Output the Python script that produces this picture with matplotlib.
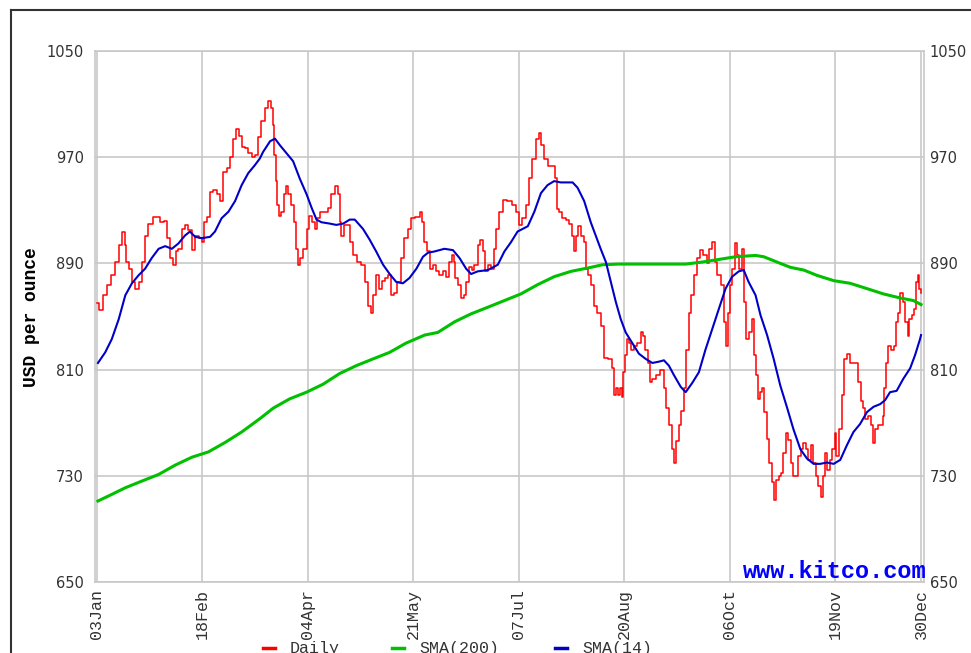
import matplotlib.pyplot as plt
from matplotlib.lines import Line2D

# Kitco gold chart, 2008 (x = trading day index, 0 = 03Jan)
daily_day = [
    0, 1.3, 2.5, 3.5, 5.0, 6.1, 7.1, 8.1, 8.6, 9.1,
    10.1, 11.1, 12.1, 13.1, 14.1, 15.1, 16.1, 17.7, 18.7, 19.7,
    20.7, 21.7, 22.7, 23.5, 24.2, 25.2, 26.2, 27.2, 28.2, 29.3,
    30.3, 31.3, 32.3, 32.8, 33.8, 34.8, 35.8, 36.8, 37.8, 38.8,
    39.9, 40.9, 41.9, 42.7, 43.4, 44.4, 45.4, 46.4, 47.4, 48.4,
    49.4, 50.4, 51.5, 52.3, 53.0, 53.5, 54.0, 54.5, 55.0, 55.5,
    56.3, 57.0, 57.7, 58.5, 59.3, 60.0, 60.5, 61.2, 62.0, 63.1,
    64.1, 64.8, 65.6, 66.4, 67.1, 68.1, 69.6, 70.6, 71.6, 72.6,
    73.4, 73.8, 74.5, 75.2, 76.2, 77.2, 78.2, 79.7, 80.7, 81.7,
    82.7, 83.5, 84.2, 85.2, 86.0, 86.8, 87.8, 88.8, 89.8, 90.6,
    91.6, 92.6, 93.8, 94.8, 95.8, 97.4, 98.4, 98.9, 99.7, 100.4,
    101.4, 102.4, 103.4, 104.4, 105.4, 106.4, 107.4, 108.0, 108.5, 109.0,
    110.0, 111.0, 111.5, 112.5, 113.3, 114.0, 115.0, 116.0, 116.7, 117.3,
    118.0, 119.0, 120.1, 120.6, 121.4, 122.6, 123.8, 125.1, 126.6, 127.6,
    128.4, 129.6, 130.7, 131.5, 132.7, 133.7, 134.3, 135.2, 136.2, 137.2,
    138.5, 139.2, 139.7, 140.7, 141.7, 142.8, 143.8, 144.3, 145.0, 145.6,
    146.3, 147.3, 148.0, 148.8, 149.3, 150.3, 151.3, 152.3, 153.4, 154.4,
    155.9, 156.6, 157.2, 157.9, 158.4, 158.9, 159.4, 159.9, 160.6, 161.2,
    161.9, 162.4, 163.4, 164.5, 165.3, 166.0, 166.7, 167.5, 168.0, 169.0,
    170.0, 171.5, 172.3, 173.0, 174.0, 174.7, 175.3, 176.1, 176.8, 177.6,
    178.4, 179.1, 180.1, 180.6, 181.6, 182.6, 183.4, 184.6, 185.4, 186.1,
    187.1, 187.8, 188.7, 189.7, 190.5, 191.2, 191.7, 192.4, 193.2, 193.9,
    194.5, 195.2, 196.0, 196.5, 197.2, 198.2, 199.1, 199.8, 200.3, 200.8,
    201.5, 202.1, 202.8, 203.5, 204.3, 205.1, 205.8, 206.5, 207.3, 208.0,
    208.5, 209.3, 210.1, 210.8, 211.6, 212.4, 213.2, 213.9, 214.6, 215.4,
    216.2, 216.9, 217.6, 218.4, 219.2, 219.9, 220.4, 221.2, 221.9, 222.7,
    223.5, 224.0, 224.7, 225.5, 226.3, 227.0, 228.0, 229.0, 230.0, 230.7,
    231.3, 232.0, 232.5, 233.6, 234.4, 235.1, 235.8, 236.4, 237.2, 238.2,
    238.6, 239.1, 239.6, 240.4, 241.4, 242.1, 242.6, 243.4, 244.1, 244.8,
    245.6, 246.2, 246.8, 247.7, 248.2, 248.7, 249.2, 249.7, 250,
]
daily_price = [
    860, 855, 866, 874, 881, 891, 904, 914, 904, 891,
    886, 876, 871, 876, 891, 911, 920, 925, 925, 921,
    922, 909, 894, 889, 899, 901, 916, 919, 915, 900,
    911, 909, 906, 921, 925, 944, 945, 942, 937, 959,
    962, 970, 984, 991, 986, 978, 977, 973, 970, 972,
    985, 997, 1007, 1012, 1007, 994, 972, 952, 934, 926,
    929, 942, 948, 942, 934, 921, 901, 889, 894, 901,
    916, 926, 921, 916, 924, 929, 929, 932, 942, 948,
    942, 921, 911, 919, 919, 906, 896, 891, 889, 876,
    858, 853, 866, 881, 871, 877, 879, 881, 866, 868,
    876, 894, 909, 916, 924, 925, 929, 921, 906, 899,
    886, 889, 884, 881, 884, 880, 891, 896, 891, 879,
    874, 864, 866, 876, 887, 885, 889, 904, 908, 899,
    884, 889, 886, 901, 916, 929, 938, 937, 934, 929,
    919, 924, 934, 954, 969, 984, 988, 979, 969, 963,
    963, 954, 931, 929, 924, 923, 920, 911, 899, 911,
    918, 911, 906, 886, 881, 874, 858, 853, 843, 819,
    818, 811, 791, 796, 791, 796, 789, 808, 821, 833,
    830, 825, 828, 830, 838, 835, 825, 815, 801, 803,
    806, 810, 796, 781, 768, 750, 740, 756, 768, 779,
    796, 825, 853, 866, 881, 894, 900, 896, 890, 901,
    906, 891, 881, 874, 846, 828, 853, 874, 886, 905,
    896, 886, 901, 861, 833, 838, 848, 821, 806, 788,
    793, 796, 778, 758, 740, 725, 712, 727, 730, 732,
    747, 762, 757, 740, 730, 730, 745, 750, 755, 750,
    742, 753, 740, 730, 722, 714, 730, 747, 734, 742,
    750, 762, 745, 765, 791, 818, 822, 815, 815, 815,
    801, 786, 781, 773, 775, 768, 755, 765, 768, 768,
    775, 796, 815, 828, 825, 828, 846, 853, 868, 861,
    846, 835, 848, 851, 856, 876, 881, 871, 868,
]

sma14_day = [
    0.3, 2.5, 4.5, 6.6, 8.6, 10.6, 12.6, 14.6, 16.6, 18.7,
    20.7, 22.7, 24.7, 26.7, 28.2, 29.8, 31.8, 34.3, 35.8, 37.8,
    39.9, 41.9, 43.9, 45.9, 47.9, 49.4, 50.4, 52.5, 54.0, 55.5,
    57.5, 59.5, 61.5, 63.6, 65.1, 66.6, 68.1, 70.6, 72.6, 74.7,
    76.7, 78.2, 80.7, 82.7, 84.7, 86.8, 88.8, 90.8, 92.8, 94.8,
    96.9, 98.9, 100.4, 102.4, 105.4, 108.0, 110.0, 112.0, 113.5, 115.5,
    118.6, 121.6, 123.6, 125.6, 127.6, 130.7, 132.7, 134.7, 136.7, 138.7,
    140.7, 144.3, 145.8, 147.8, 149.8, 151.3, 152.8, 154.4, 155.9, 157.4,
    158.9, 160.4, 162.4, 164.4, 166.5, 168.5, 170.5, 172.0, 173.5, 175.0,
    177.1, 178.6, 180.6, 182.6, 184.6, 186.7, 188.7, 190.7, 192.7, 194.7,
    196.2, 197.7, 199.8, 201.3, 203.3, 205.3, 207.3, 209.4, 211.3, 213.4,
    215.4, 217.4, 219.4, 221.5, 223.5, 225.5, 227.5, 229.5, 231.5, 233.6,
    235.6, 237.6, 239.1, 240.6, 242.6, 244.6, 246.7, 248.2, 249.7, 250,
]
sma14 = [
    815, 823, 833, 848, 866, 875, 881, 886, 894, 901,
    903, 901, 905, 911, 914, 910, 909, 910, 914, 924,
    929, 937, 949, 958, 964, 969, 974, 982, 984, 979,
    973, 967, 954, 942, 932, 923, 921, 920, 919, 920,
    923, 923, 916, 908, 899, 889, 882, 876, 875, 879,
    886, 895, 898, 899, 901, 900, 894, 886, 882, 884,
    885, 889, 899, 906, 914, 918, 929, 943, 949, 952,
    951, 951, 947, 937, 921, 911, 901, 891, 876, 861,
    848, 838, 830, 822, 818, 815, 816, 817, 813, 806,
    797, 793, 800, 808, 825, 841, 856, 871, 880, 884,
    885, 876, 866, 851, 836, 818, 798, 781, 765, 750,
    743, 739, 739, 740, 739, 742, 753, 763, 769, 778,
    782, 784, 787, 793, 794, 803, 811, 821, 833, 836,
]

sma200_day = [
    0.3, 4.5, 8.6, 13.6, 18.7, 23.7, 28.8, 33.8, 38.8, 43.9,
    49.4, 53.5, 58.5, 63.6, 68.6, 73.6, 78.7, 83.7, 88.8, 93.8,
    99.4, 103.4, 108.5, 113.5, 118.6, 123.6, 128.6, 133.7, 138.7, 143.8,
    149.8, 153.4, 158.4, 168.5, 178.6, 183.6, 188.7, 193.7, 199.8, 202.3,
    206.3, 210.4, 214.4, 218.4, 223.5, 228.5, 233.6, 238.6, 243.6, 247.7, 250,
]
sma200 = [
    711, 716, 721, 726, 731, 738, 744, 748, 755, 763,
    773, 781, 788, 793, 799, 807, 813, 818, 823, 830,
    836, 838, 846, 852, 857, 862, 867, 874, 880, 884,
    887, 889, 889.5, 889.5, 889.5, 891, 893, 895, 896, 895,
    891, 887, 885, 881, 877, 875, 871, 867, 864, 862, 859,
]

tick_days = [0, 32, 64, 96, 128, 160, 192, 224, 250]
tick_labels = ['03Jan', '18Feb', '04Apr', '21May', '07Jul', '20Aug', '06Oct', '19Nov', '30Dec']
y_ticks = [650, 730, 810, 890, 970, 1050]

W, H = 971, 653
grid_c = '#c8c8c8'
txt_c = '#333333'
mono = 'Liberation Mono'

fig = plt.figure(figsize=(W / 100, H / 100), dpi=100)
ax = fig.add_axes([95 / W, 71 / H, 829 / W, 531 / H])

ax.plot(daily_day, daily_price, color='#ff0000', lw=1.1, drawstyle='steps-mid', zorder=3)
ax.plot(sma200_day, sma200, color='#00c000', lw=2.2, zorder=4)
ax.plot(sma14_day, sma14, color='#0000c8', lw=1.5, zorder=5)

ax.set_xlim(-0.6, 250.9)
ax.set_ylim(650, 1050)
ax.set_yticks(y_ticks)
ax.set_xticks(tick_days)
ax.set_xticklabels(tick_labels, rotation=90, family=mono, fontsize=12, color=txt_c)
ax.grid(True, color=grid_c, lw=1.2)
ax.set_axisbelow(True)
for s in ax.spines.values():
    s.set_color(grid_c)
    s.set_linewidth(1.2)
ax.tick_params(axis='both', length=0)
ax.tick_params(axis='x', pad=5)
ax.tick_params(axis='y', pad=8, labelsize=10.5, labelcolor=txt_c)

ax2 = ax.twinx()
ax2.set_ylim(650, 1050)
ax2.set_yticks(y_ticks)
ax2.tick_params(axis='y', length=0, pad=4, labelsize=10.5, labelcolor=txt_c)
for s in ax2.spines.values():
    s.set_visible(False)

fig.text(32 / W, 1 - 317 / H, 'USD per ounce', rotation=90, ha='center', va='center',
         family=mono, fontweight='bold', fontsize=13, color='black')

fig.text(927 / W, 1 - 578 / H, 'www.kitco.com', ha='right', va='baseline',
         family=mono, fontweight='bold', fontsize=17, color='#0000ff')

# legend along the bottom edge, partly below the picture as in the original
legend_items = [('Daily', '#ff0000', 263), ('SMA(200)', '#00c000', 392), ('SMA(14)', '#0000c8', 555)]
for name, col, x0 in legend_items:
    fig.add_artist(Line2D([x0 / W, (x0 + 12) / W], [1 - 648 / H, 1 - 648 / H],
                          color=col, lw=2.5, transform=fig.transFigure))
    fig.text((x0 + 27) / W, 1 - 641 / H, name, ha='left', va='top',
             family=mono, fontsize=12, color=txt_c)

# outer frame
fig.add_artist(Line2D([11 / W, 1.0], [1 - 10 / H, 1 - 10 / H], color='#333333', lw=1.5,
                      transform=fig.transFigure))
fig.add_artist(Line2D([11 / W, 11 / W], [1 - 10 / H, 0.0], color='#333333', lw=1.5,
                      transform=fig.transFigure))

fig.savefig('out.png', dpi=100)
